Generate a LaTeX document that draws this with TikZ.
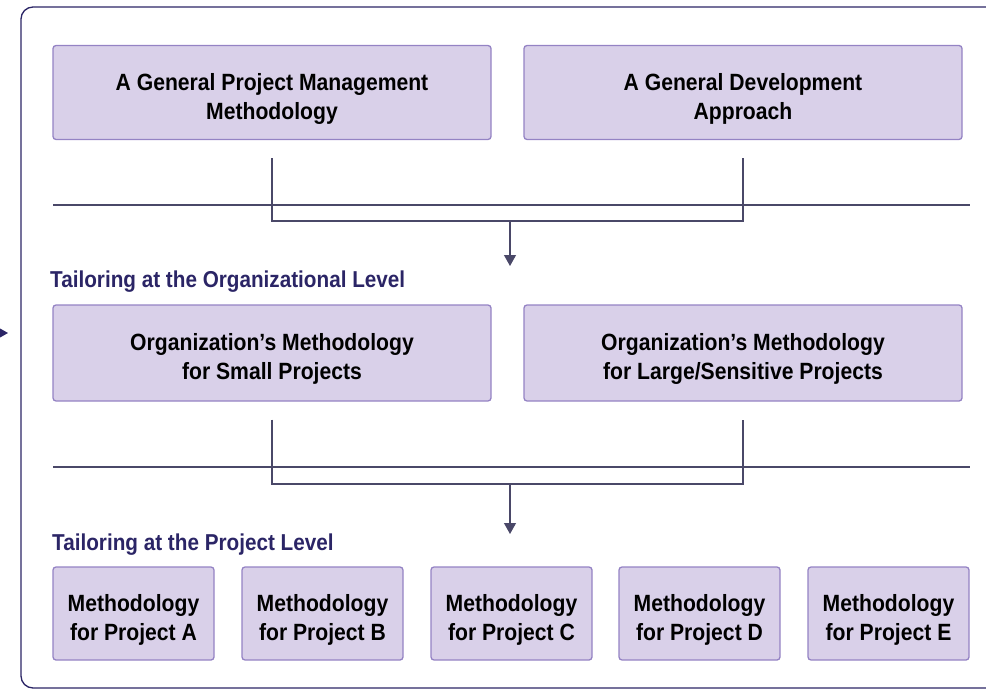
\documentclass[tikz,border=0pt]{standalone}
\usepackage{fontspec}
\setmainfont{Liberation Sans}[FakeStretch=0.9]
\usetikzlibrary{arrows.meta,calc}
\definecolor{boxfill}{HTML}{D9D0E9}
\definecolor{boxline}{HTML}{9483C4}
\definecolor{navy}{HTML}{2B2566}
\definecolor{conn}{HTML}{4A4868}
\tikzset{
  box/.style={draw=boxline,line width=1.3pt,fill=boxfill,rounded corners=3pt,inner sep=0pt},
  wide/.style={box,minimum width=438pt,minimum height=94pt},
  small/.style={box,minimum width=161pt,minimum height=93pt},
  txt/.style={align=center,font=\fontsize{23.5}{29.5}\selectfont\bfseries,text=black,inner sep=0pt},
  conline/.style={draw=conn,line width=1.2pt},
  arr/.style={conline,-{Triangle[width=12pt,length=11pt]}},
  lvl/.style={anchor=base west,inner sep=0pt,text=navy,font=\fontsize{23}{28}\selectfont\bfseries}
}
\begin{document}
\begin{tikzpicture}[x=1pt,y=-1pt]
\useasboundingbox (0,0) rectangle (986,690);
% outer frame
\draw[navy,line width=1.3pt,rounded corners=12pt] (990,7) -- (21,7) -- (21,688) -- (990,688);
% incoming arrow at left
\coordinate (inL) at (-12,333);
\coordinate (inR) at (8,333);
\draw[navy,line width=1.3pt,-{Triangle[width=11pt,length=10pt]}] (inL) -- (inR);

% top row
\node[wide] (gpm) at (272,92.5) {};
\node[txt] (gpmt) at ([yshift=-6.5pt]gpm.center) {A General Project Management\\Methodology};
\node[wide] (gda) at (743,92.5) {};
\node[txt] (gdat) at ([yshift=-6.5pt]gda.center) {A General Development\\Approach};
% separator 1
\draw[conline] (53,205) -- (970,205);
\coordinate (j1) at (510,221);
\coordinate (a1) at (510,266);
\draw[conline] ($(gpm.south)+(0,18)$) |- (j1) -| ($(gda.south)+(0,18)$);
\draw[arr] (j1) -- (a1);

\node[lvl] (lv1) at (50,287) {Tailoring at the Organizational Level};

% middle row
\node[wide,minimum height=96pt] (osp) at (272,353) {};
\node[txt] (ospt) at ([yshift=-6pt]osp.center) {Organization’s Methodology\\for Small Projects};
\node[wide,minimum height=96pt] (olp) at (743,353) {};
\node[txt] (olpt) at ([yshift=-6pt]olp.center) {Organization’s Methodology\\for Large/Sensitive Projects};
% separator 2
\draw[conline] (53,467) -- (970,467);
\coordinate (j2) at (510,484);
\coordinate (a2) at (510,534);
\draw[conline] ($(osp.south)+(0,18)$) |- (j2) -| ($(olp.south)+(0,18)$);
\draw[arr] (j2) -- (a2);

\node[lvl] (lv2) at (52,550) {Tailoring at the Project Level};

% bottom row
\foreach \n/\x/\l in {pa/133.5/A,pb/322.5/B,pc/511.5/C,pd/699.5/D,pe/888.5/E}{
  \node[small] (\n) at (\x,613.5) {};
  \node[txt] (\n t) at ([yshift=-6.5pt]\n.center) {Methodology\\for Project \l};
}
\end{tikzpicture}
\end{document}
